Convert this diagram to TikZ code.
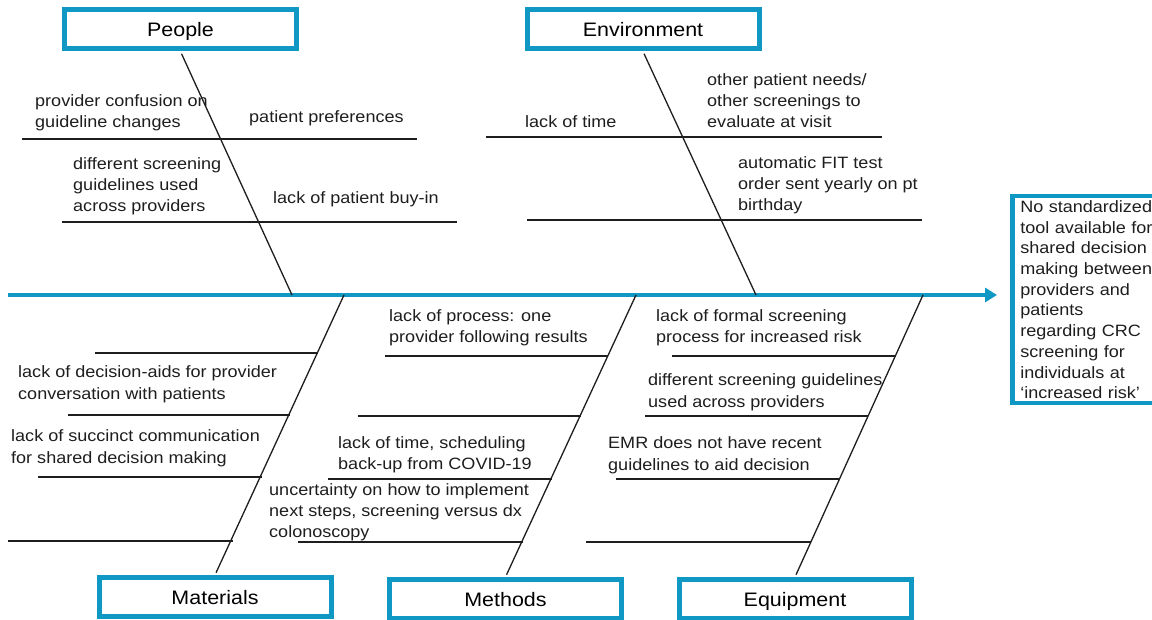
\documentclass[tikz,border=0pt]{standalone}
\usepackage{fontspec}
\setmainfont{Liberation Sans}[FakeStretch=1.1]
\usetikzlibrary{arrows.meta}
\definecolor{fishblue}{RGB}{16,152,196}
\definecolor{ink}{RGB}{30,30,30}
\newcommand{\causelines}[1]{\begin{tabular}[t]{@{}l@{}}#1\end{tabular}}
\begin{document}
\begin{tikzpicture}[x=1pt,y=-1pt,
  spine/.style={draw=fishblue, line width=4pt},
  bone/.style={draw=ink, line width=1.3pt},
  rib/.style={draw=ink, line width=1.3pt},
  catbox/.style={draw=fishblue, line width=5pt, fill=white, minimum width=232pt, minimum height=39pt, inner sep=0pt, text height=14pt, text depth=0pt, font=\fontsize{19.5}{23}\selectfont},
  cause/.style={anchor=base west, inner sep=0pt, text=ink, font=\fontsize{16.4}{21}\selectfont},
  resbox/.style={draw=fishblue, line width=4.5pt, anchor=north west, text width=150pt, inner xsep=8pt, inner ysep=0pt, minimum height=207pt, align=left, text=ink, font=\fontsize{16.4}{20.7}\selectfont},
]
\useasboundingbox (0,0) rectangle (1152,620);
\fill[white] (0,0) rectangle (1152,620);

% category boxes
\node[catbox] (people) at (180.5,29.5) {People};
\node[catbox] (env) at (643,29.5) {Environment};
\node[catbox] (mat) at (215,597) {Materials};
\node[catbox] (meth) at (505.5,599) {Methods};
\node[catbox] (equip) at (795,599) {Equipment};

% effect box
\node[resbox] (res) at (1010,194) {No standardized\\tool available for\\shared decision\\making between\\providers and\\patients\\regarding CRC\\screening for\\individuals at\\‘increased risk’};

% spine
\coordinate (tail) at (8,295);
\coordinate (head) at (997,295);
\draw[spine, -{Triangle[length=12pt,width=14pt]}] (tail) -- (head);

% joints on the spine
\coordinate (jp) at (292,295);
\coordinate (je) at (756,295);
\coordinate (jm) at (344,295);
\coordinate (jt) at (636,295);
\coordinate (jq) at (923,295);

% bones
\draw[bone, shorten <=2.5pt] (people.south) -- (jp);
\draw[bone, shorten <=2.5pt] (env.south) -- (je);
\draw[bone, shorten <=2.5pt] (mat.north) -- (jm);
\draw[bone, shorten <=2.5pt] (meth.north) -- (jt);
\draw[bone, shorten <=2.5pt] (equip.north) -- (jq);

% ribs - People
\draw[rib] (22,139) -- (417,139);
\draw[rib] (62,222) -- (457,222);
% ribs - Environment
\draw[rib] (486,137) -- (882,137);
\draw[rib] (527,220) -- (922,220);
% ribs - Materials
\draw[rib] (95,353) -- (318,353);
\draw[rib] (68,415) -- (290,415);
\draw[rib] (38,477) -- (262,477);
\draw[rib] (8,541) -- (233,541);
% ribs - Methods
\draw[rib] (385,356) -- (608,356);
\draw[rib] (358,416) -- (581,416);
\draw[rib] (328,479) -- (552,479);
\draw[rib] (298,542) -- (523,542);
% ribs - Equipment
\draw[rib] (672,356) -- (896,356);
\draw[rib] (645,416) -- (868,416);
\draw[rib] (616,479) -- (840,479);
\draw[rib] (586,542) -- (811,542);

% causes - People
\node[cause] (p1) at (35,107) {\causelines{provider confusion on\\guideline changes}};
\node[cause] (p2) at (249,123) {patient preferences};
\node[cause] (p3) at (73,170) {\causelines{different screening\\guidelines used\\across providers}};
\node[cause] (p4) at (273,204) {lack of patient buy-in};
% causes - Environment
\node[cause] (e1) at (525,128) {lack of time};
\node[cause] (e2) at (707,86) {\causelines{other patient needs/\\other screenings to\\evaluate at visit}};
\node[cause] (e3) at (738,169) {\causelines{automatic FIT test\\order sent yearly on pt\\birthday}};
% causes - Materials
\node[cause] (m1) at (18,378) {\causelines{lack of decision-aids for provider\\conversation with patients}};
\node[cause] (m2) at (11,442) {\causelines{lack of succinct communication\\for shared decision making}};
% causes - Methods
\node[cause] (t1) at (389,322) {\causelines{lack of process: one\\provider following results}};
\node[cause] (t2) at (338,448) {\causelines{lack of time, scheduling\\back-up from COVID-19}};
\node[cause] (t3) at (269,495) {\causelines{uncertainty on how to implement\\next steps, screening versus dx\\colonoscopy}};
% causes - Equipment
\node[cause] (q1) at (656,322) {\causelines{lack of formal screening\\process for increased risk}};
\node[cause] (q2) at (648,386) {\causelines{different screening guidelines\\used across providers}};
\node[cause] (q3) at (608,449) {\causelines{EMR does not have recent\\guidelines to aid decision}};
\end{tikzpicture}
\end{document}
